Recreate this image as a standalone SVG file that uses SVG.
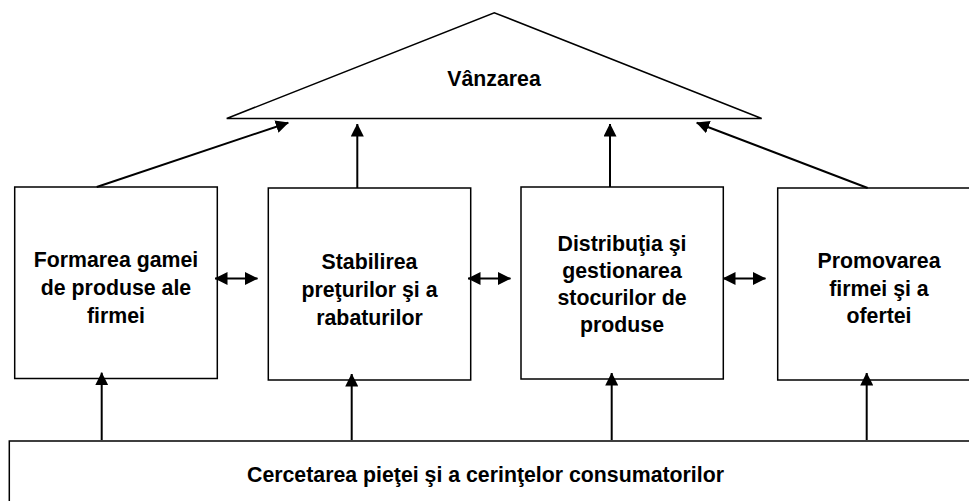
<svg xmlns="http://www.w3.org/2000/svg" width="969" height="501" viewBox="0 0 969 501">
<style>
.shape{fill:#fff;stroke:#000;stroke-width:1.5}
.conn{fill:none;stroke:#000;stroke-width:2}
text{font-family:"Liberation Sans",Arial,sans-serif;font-weight:bold;font-size:21.3px;fill:#000;text-anchor:middle}
</style>
<defs>
<marker id="ah" viewBox="0 0 13 13" refX="12.5" refY="6.5" markerWidth="13" markerHeight="13" markerUnits="userSpaceOnUse" orient="auto-start-reverse">
<path d="M0,0 L13,6.5 L0,13 z" fill="#000"/>
</marker>
</defs>
<rect width="969" height="501" fill="#fff"/>
<g id="vanzarea">
<polygon class="shape" points="226.7,118.5 494.3,12.7 761.7,118.5"/>
<text x="494" y="85.5">Vânzarea</text>
</g>
<g id="formarea">
<rect class="shape" x="14.7" y="187" width="202.6" height="191.5"/>
<text x="116" y="266.5">Formarea gamei</text>
<text x="116" y="294.5">de produse ale</text>
<text x="116" y="322.5">firmei</text>
</g>
<g id="stabilirea">
<rect class="shape" x="268.3" y="188" width="202.4" height="192"/>
<text x="369.5" y="269">Stabilirea</text>
<text x="369.5" y="297">preţurilor şi a</text>
<text x="369.5" y="325">rabaturilor</text>
</g>
<g id="distributia">
<rect class="shape" x="521" y="187" width="202.3" height="192"/>
<text x="622" y="251">Distribuţia şi</text>
<text x="622" y="278">gestionarea</text>
<text x="622" y="305">stocurilor de</text>
<text x="622" y="332">produse</text>
</g>
<g id="promovarea">
<rect class="shape" x="777.7" y="188" width="202.6" height="192"/>
<text x="879" y="268">Promovarea</text>
<text x="879" y="296">firmei şi a</text>
<text x="879" y="323">ofertei</text>
</g>
<g id="cercetarea">
<rect class="shape" x="9.3" y="441" width="970" height="70"/>
<text x="485.5" y="482">Cercetarea pieţei şi a cerinţelor consumatorilor</text>
</g>
<g id="connectors">
<line class="conn" x1="96.7" y1="187" x2="288.3" y2="122.7" marker-end="url(#ah)"/>
<line class="conn" x1="357.3" y1="188" x2="357.3" y2="124" marker-end="url(#ah)"/>
<line class="conn" x1="610" y1="187" x2="610" y2="124" marker-end="url(#ah)"/>
<line class="conn" x1="867.7" y1="188" x2="696.7" y2="122.7" marker-end="url(#ah)"/>
<line class="conn" x1="215" y1="278.5" x2="257.5" y2="278.5" marker-start="url(#ah)" marker-end="url(#ah)"/>
<line class="conn" x1="468" y1="278.5" x2="510.5" y2="278.5" marker-start="url(#ah)" marker-end="url(#ah)"/>
<line class="conn" x1="723" y1="278.5" x2="765.5" y2="278.5" marker-start="url(#ah)" marker-end="url(#ah)"/>
<line class="conn" x1="101.7" y1="440" x2="101.7" y2="372.7" marker-end="url(#ah)"/>
<line class="conn" x1="351.7" y1="440" x2="351.7" y2="374" marker-end="url(#ah)"/>
<line class="conn" x1="611.7" y1="440" x2="611.7" y2="373" marker-end="url(#ah)"/>
<line class="conn" x1="866.7" y1="440" x2="866.7" y2="373" marker-end="url(#ah)"/>
</g>
</svg>
